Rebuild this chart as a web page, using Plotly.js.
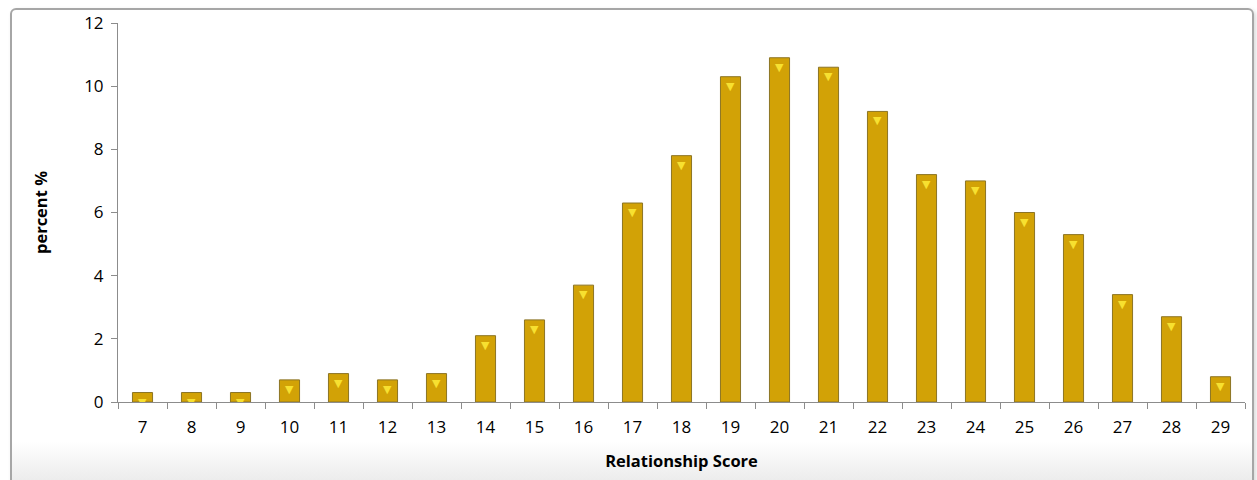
<!DOCTYPE html>
<html>
<head>
<meta charset="utf-8">
<script src="https://cdn.plot.ly/plotly-3.0.1.min.js"></script>
<style>
  html, body { margin: 0; padding: 0; background: #ffffff; }
  #frame {
    position: absolute; left: 10px; top: 8px; width: 1240px; height: 490px;
    border: 2px solid #a6a6a6; border-radius: 6px;
    background: linear-gradient(to bottom, #ffffff 0%, #ffffff 88%, #ececec 96%, #e2e2e2 100%);
    box-shadow: 2px 2px 4px rgba(0,0,0,0.15);
  }
  #chart { position: absolute; left: 0; top: 0; width: 1257px; height: 480px; }
</style>
</head>
<body>
<div id="frame"></div>
<div id="chart"></div>
<script>
const scores = ["7","8","9","10","11","12","13","14","15","16","17","18","19","20","21","22","23","24","25","26","27","28","29"];
const percents = [0.3,0.3,0.3,0.7,0.9,0.7,0.9,2.1,2.6,3.7,6.3,7.8,10.3,10.9,10.6,9.2,7.2,7.0,6.0,5.3,3.4,2.7,0.8];
const yTicks = [0,2,4,6,8,10,12];
const xTitle = "Relationship Score";
const yTitle = "percent %";

const FONT = "Open Sans, Noto Sans, sans-serif";

const trace = {
  type: "bar",
  x: scores,
  y: percents,
  width: 0.41,
  marker: { color: "#D2A206", line: { color: "#8C7424", width: 1 } },
  text: scores.map(() => "▼"),
  textposition: "inside",
  insidetextanchor: "end",
  textangle: 0,
  constraintext: "none",
  textfont: { color: "#F7E030", size: 11, family: "DejaVu Sans" },
  hoverinfo: "x+y"
};

const layout = {
  width: 1257, height: 480,
  margin: { l: 118, r: 12, t: 23, b: 78 },
  paper_bgcolor: "rgba(0,0,0,0)",
  plot_bgcolor: "rgba(0,0,0,0)",
  showlegend: false,
  bargap: 0.59,
  font: { family: FONT, color: "#000" },
  xaxis: {
    type: "category",
    tickson: "boundaries",
    ticks: "outside", ticklen: 6, tickcolor: "#8c8c8c", tickwidth: 1,
    ticklabelstandoff: 10,
    showline: true, linecolor: "#8c8c8c", linewidth: 1,
    showgrid: false, zeroline: false,
    tickfont: { size: 17, family: FONT },
    title: { text: "<b>" + xTitle + "</b>", font: { size: 16.5, family: FONT }, standoff: 18 }
  },
  yaxis: {
    range: [0, 12],
    tickvals: yTicks,
    ticktext: yTicks.map(String),
    ticks: "outside", ticklen: 6, tickcolor: "#8c8c8c", tickwidth: 1,
    ticklabelstandoff: 4,
    showline: true, linecolor: "#8c8c8c", linewidth: 1,
    showgrid: false, zeroline: false,
    tickfont: { size: 17, family: FONT },
    title: { text: "<b>" + yTitle + "</b>", font: { size: 16.5, family: FONT }, standoff: 32 }
  }
};

Plotly.newPlot("chart", [trace], layout, { displayModeBar: false, staticPlot: true });
</script>
</body>
</html>
